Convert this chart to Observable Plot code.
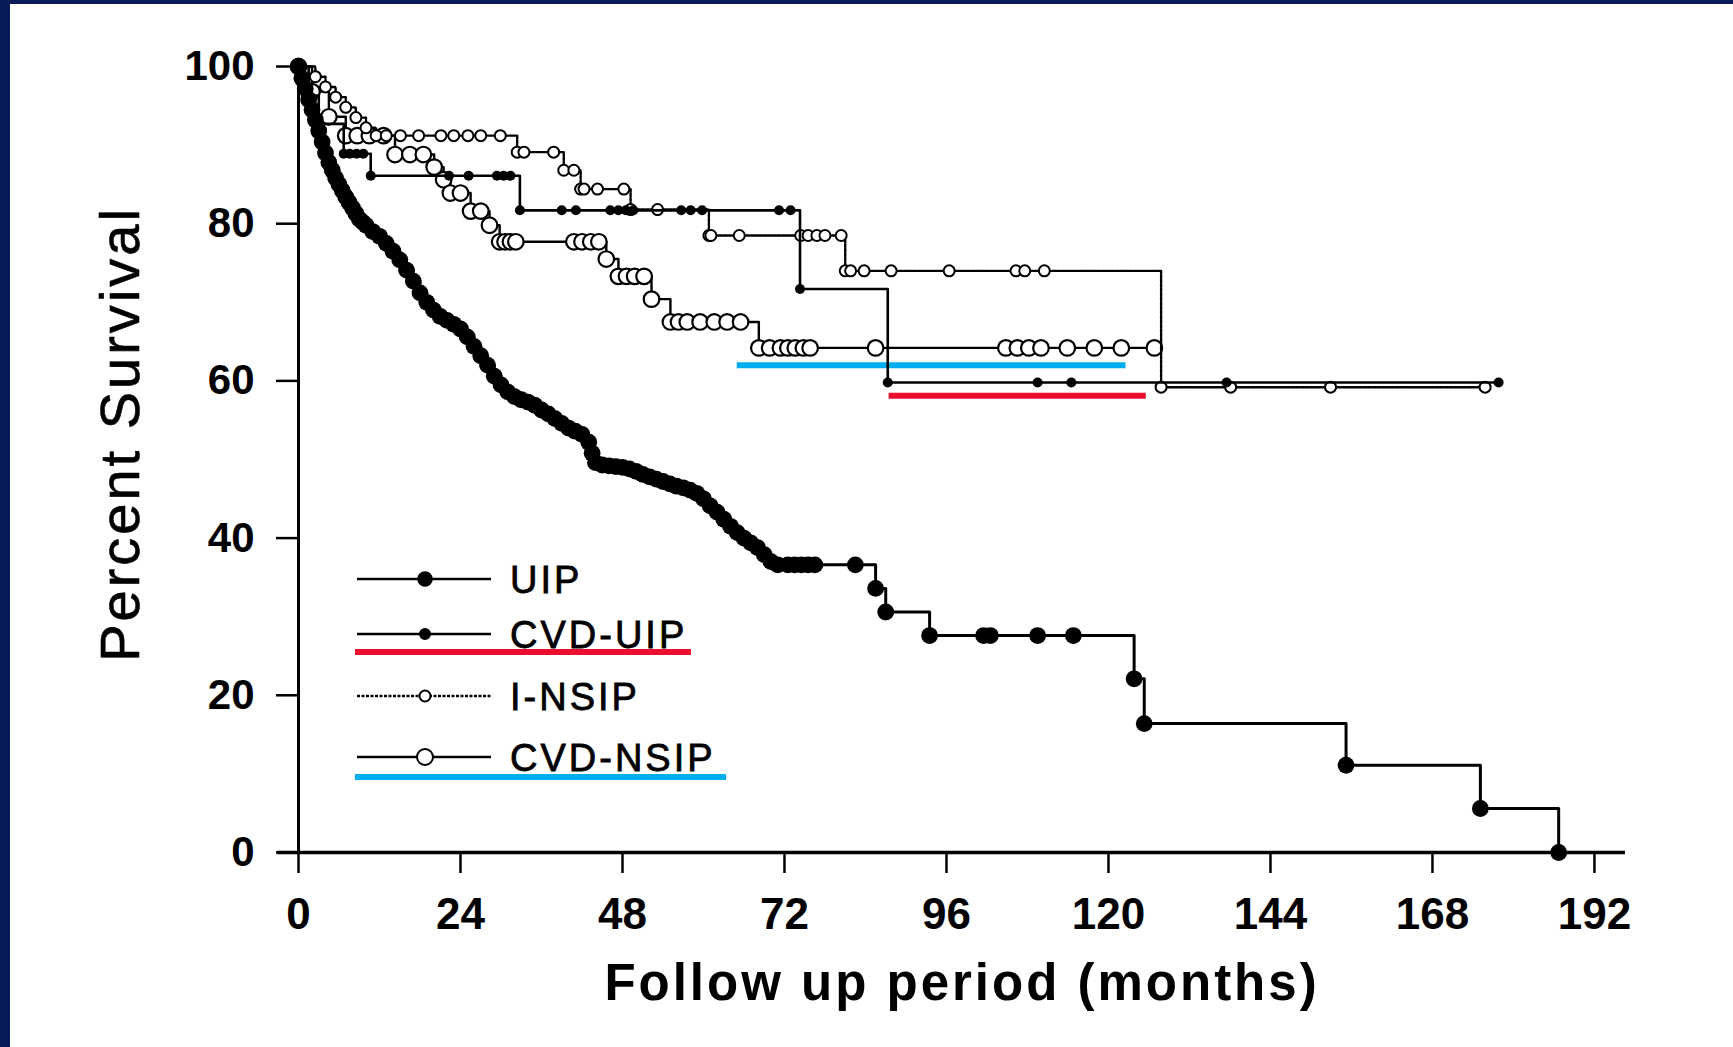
<!DOCTYPE html>
<html>
<head>
<meta charset="utf-8">
<script src="https://cdn.jsdelivr.net/npm/d3@7"></script>
<script src="https://cdn.jsdelivr.net/npm/@observablehq/plot@0.6"></script>
<style>
  html, body { margin: 0; padding: 0; background: #ffffff; }
  #wrap { position: relative; width: 1733px; height: 1047px; overflow: hidden; background: #ffffff;
          font-family: "Liberation Sans", Arial, sans-serif; }
  #chart, #overlay { position: absolute; left: 0; top: 0; }
  #overlay { pointer-events: none; }
  .navyL { position: absolute; left: 0; top: 0; width: 10px; height: 1047px; background: #0a1b5a; }
  .navyT { position: absolute; left: 0; top: 0; width: 1733px; height: 4px; background: #0a1b5a; }
</style>
</head>
<body>
<div id="wrap">
  <div id="chart"></div>
  <div id="overlay"></div>
  <div class="navyL"></div>
  <div class="navyT"></div>
</div>
<script>
// ---------- data (month, percent survival) ----------
const xTicks = [0, 24, 48, 72, 96, 120, 144, 168, 192];
const yTicks = [0, 20, 40, 60, 80, 100];
const xAxisEnd = 196.6;

const uip = [
  [0,100],[0.5,98.5],[1,97.2],[1.5,95.8],[2,94.5],[2.5,93.2],[3,91.8],[3.5,90.4],[4,89.0],[4.5,87.8],
  [5,86.8],[5.5,85.8],[6,85.0],[6.5,84.2],[7,83.4],[7.5,82.7],[8,82.0],[8.5,81.3],[9,80.6],[9.5,80.2],
  [10,79.8],[11,79.0],[12,78.4],[13,77.5],[14,76.5],[15,75.4],[16,74.1],[17,72.7],[18,71.2],[19,70.0],
  [20,69.0],[21,68.2],[22,67.7],[23,67.2],[24,66.6],[25,65.6],[26,64.4],[27,63.2],[28,62.0],[29,60.6],
  [30,59.5],[31,58.6],[32,58.0],[33,57.6],[34,57.3],[35,56.9],[36,56.3],[37,55.8],[38,55.2],[39,54.6],
  [40,54.0],[41,53.6],[42,53.2],[43,52.2],[43.5,50.8],[44,49.6],[45,49.3],[46,49.2],[47,49.1],[48,49.0],
  [49,48.8],[50,48.5],[51,48.1],[52,47.8],[53,47.5],[54,47.2],[55,46.9],[56,46.6],[57,46.4],[58,46.1],
  [59,45.7],[60,45.0],[61,44.1],[62,43.3],[63,42.4],[64,41.5],[65,40.7],[66,40.0],[67,39.4],[68,38.8],
  [69,37.9],[70,37.0],[71,36.6],[72.5,36.6],[73.5,36.6],[74.5,36.6],[75.5,36.6],[76.5,36.6],[82.5,36.6],
  [85.5,33.6],[87,30.6],[93.5,27.6],[101.5,27.6],[102.5,27.6],[109.5,27.6],[114.8,27.6],[123.8,22.1],
  [125.3,16.4],[155.2,11.1],[175.1,5.6],[186.7,0]
];

const cvdUip = [
  [0,100],[1.5,96.3],[3,92.7],[6.7,88.9],[7.6,88.9],[8.6,88.9],[9.6,88.9],[10.7,86.1],[22.3,86.1],
  [25.2,86.1],[29.4,86.1],[30.4,86.1],[31.4,86.1],[32.8,81.7],[39,81.7],[41.1,81.7],[46.2,81.7],
  [47.4,81.7],[48.5,81.7],[49.6,81.7],[56.7,81.7],[58.1,81.7],[59.8,81.7],[71.2,81.7],[72.9,81.7],
  [74.3,71.7],[87.3,59.8],[109.5,59.8],[114.5,59.8],[137.5,59.8],[177.8,59.8]
];

const iNsip = [
  [0,100],[2.5,98.7],[4,97.4],[5.5,96.1],[7,94.8],[8.5,93.5],[10,92.2],[11.5,91.2],[13,91.2],[15.1,91.2],
  [17.8,91.2],[21.1,91.2],[23,91.2],[25.1,91.2],[27,91.2],[29.9,91.2],[32.4,89.1],[33.4,89.1],[37.8,89.1],
  [39.3,86.8],[40.8,86.8],[41.8,84.4],[42.3,84.4],[44.3,84.4],[48.2,84.4],[49.2,81.8],[53.2,81.8],
  [60.8,78.5],[61.1,78.5],[65.3,78.5],[74.4,78.5],[75.5,78.5],[76.8,78.5],[78,78.5],[80.4,78.5],
  [81,74],[81.8,74],[83.8,74],[87.8,74],[96.4,74],[106.3,74],[107.6,74],[110.5,74],
  [127.8,59.2],[138.1,59.2],[152.9,59.2],[175.8,59.2]
];

const cvdNsip = [
  [0,100],[2,96.8],[4.5,93.6],[7,91.2],[8.7,91.2],[10.5,91.2],[12.6,91.2],[14.3,88.8],[16.5,88.8],
  [18.5,88.8],[20.1,87.2],[21.5,85.6],[22.5,83.9],[24,83.9],[25.5,81.6],[27,81.6],[28.3,79.8],
  [29.8,77.7],[30.6,77.7],[31.4,77.7],[32.2,77.7],[40.8,77.7],[42,77.7],[43.3,77.7],[44.5,77.7],
  [45.6,75.5],[47.4,73.3],[48.6,73.3],[49.8,73.3],[51.2,73.3],[52.3,70.4],[55.1,67.5],[56.3,67.5],
  [57.6,67.5],[59.5,67.5],[61.6,67.5],[63.5,67.5],[65.5,67.5],[68.2,64.2],[69.8,64.2],[71.4,64.2],
  [72.5,64.2],[73.6,64.2],[74.8,64.2],[75.8,64.2],[85.5,64.2],[104.8,64.2],[106.5,64.2],[108.2,64.2],
  [110,64.2],[113.9,64.2],[117.9,64.2],[121.9,64.2],[126.8,64.2]
];

// coloured highlight underlines (annotations)
const redTail  = [{x1: 87.5, x2: 125.6, y: 58.1}];
const blueTail = [{x1: 65.0, x2: 122.6, y: 62.0}];

const legendNames = ["UIP", "CVD-UIP", "I-NSIP", "CVD-NSIP"];

// ---------- build ----------
const rows = arr => arr.map(([m, p]) => ({month: m, pct: p}));
const R_uip = rows(uip), R_cu = rows(cvdUip), R_in = rows(iNsip), R_cn = rows(cvdNsip);
const FONT = '"Liberation Sans", Arial, sans-serif';

const chart = Plot.plot({
  width: 1733, height: 1047,
  marginLeft: 298, marginRight: 108, marginTop: 66, marginBottom: 195,
  x: {domain: [0, xAxisEnd]},
  y: {domain: [0, 100]},
  style: {fontFamily: FONT, background: "transparent", color: "#000", overflow: "visible"},
  marks: [
    Plot.ruleY(redTail, {y: "y", x1: "x1", x2: "x2", stroke: "#ea0f2e", strokeWidth: 6}),
    Plot.ruleY(blueTail, {y: "y", x1: "x1", x2: "x2", stroke: "#00aeef", strokeWidth: 6}),

    Plot.line(R_cn, {x: "month", y: "pct", curve: "step-after", stroke: "#000", strokeWidth: 2.4}),
    Plot.dot(R_cn, {x: "month", y: "pct", r: 7.8, fill: "#fff", stroke: "#000", strokeWidth: 2.2}),

    Plot.line(R_in, {x: "month", y: "pct", curve: "step-after", stroke: "#000", strokeWidth: 2.4, strokeDasharray: "3,1.5"}),
    Plot.dot(R_in, {x: "month", y: "pct", r: 5.5, fill: "#fff", stroke: "#000", strokeWidth: 2}),

    Plot.line(R_cu, {x: "month", y: "pct", curve: "step-after", stroke: "#000", strokeWidth: 2.6}),
    Plot.dot(R_cu, {x: "month", y: "pct", r: 5, fill: "#000"}),

    Plot.line(R_uip, {x: "month", y: "pct", curve: "step-after", stroke: "#000", strokeWidth: 3}),
    Plot.dot(R_uip, {x: "month", y: "pct", r: 8.4, fill: "#000"}),

    Plot.ruleX([0], {stroke: "#000", strokeWidth: 3}),
    Plot.ruleY([0], {stroke: "#000", strokeWidth: 3.5, insetLeft: -21}),
    Plot.axisY({ticks: yTicks, anchor: "left", tickSize: 22, tickPadding: 22, fontSize: 42,
                fontWeight: "bold", strokeWidth: 2.5, label: null}),
    Plot.axisX({ticks: xTicks, anchor: "bottom", tickSize: 21, tickPadding: 24, fontSize: 44,
                fontWeight: "bold", strokeWidth: 2.5, label: null})
  ]
});
document.getElementById("chart").appendChild(chart);

// ---------- overlay: axis titles and legend ----------
const svg = d3.create("svg").attr("width", 1733).attr("height", 1047)
  .style("font-family", FONT);

svg.append("text")
  .attr("x", 962).attr("y", 1000).attr("text-anchor", "middle")
  .attr("font-size", 51).attr("font-weight", "bold").attr("letter-spacing", 3)
  .text("Follow up period (months)");

svg.append("text")
  .attr("transform", "translate(119,434) rotate(-90)")
  .attr("y", 20).attr("text-anchor", "middle")
  .attr("font-size", 56).attr("letter-spacing", 3)
  .attr("stroke", "#000").attr("stroke-width", 0.6)
  .text("Percent Survival");

const legendY = [579, 634, 696, 757];
const styles = [
  {r: 6.8, fill: "#000", dash: null},
  {r: 5, fill: "#000", dash: null},
  {r: 5.5, fill: "#fff", dash: "3,1.5"},
  {r: 8, fill: "#fff", dash: null}
];
legendNames.forEach((name, i) => {
  const g = svg.append("g");
  const y = legendY[i], st = styles[i];
  g.append("line").attr("x1", 357).attr("x2", 491).attr("y1", y).attr("y2", y)
    .attr("stroke", "#000").attr("stroke-width", 2.4).attr("stroke-dasharray", st.dash);
  g.append("circle").attr("cx", 425).attr("cy", y).attr("r", st.r)
    .attr("fill", st.fill).attr("stroke", "#000").attr("stroke-width", 2);
  g.append("text").attr("x", 510).attr("y", y + 13.5)
    .attr("font-size", 38).attr("letter-spacing", 3)
    .attr("stroke", "#000").attr("stroke-width", 0.8)
    .text(name);
});
svg.append("line").attr("x1", 355).attr("x2", 691).attr("y1", 652).attr("y2", 652)
  .attr("stroke", "#ea0f2e").attr("stroke-width", 6);
svg.append("line").attr("x1", 355).attr("x2", 726).attr("y1", 777).attr("y2", 777)
  .attr("stroke", "#00aeef").attr("stroke-width", 6);

document.getElementById("overlay").appendChild(svg.node());
</script>
</body>
</html>
